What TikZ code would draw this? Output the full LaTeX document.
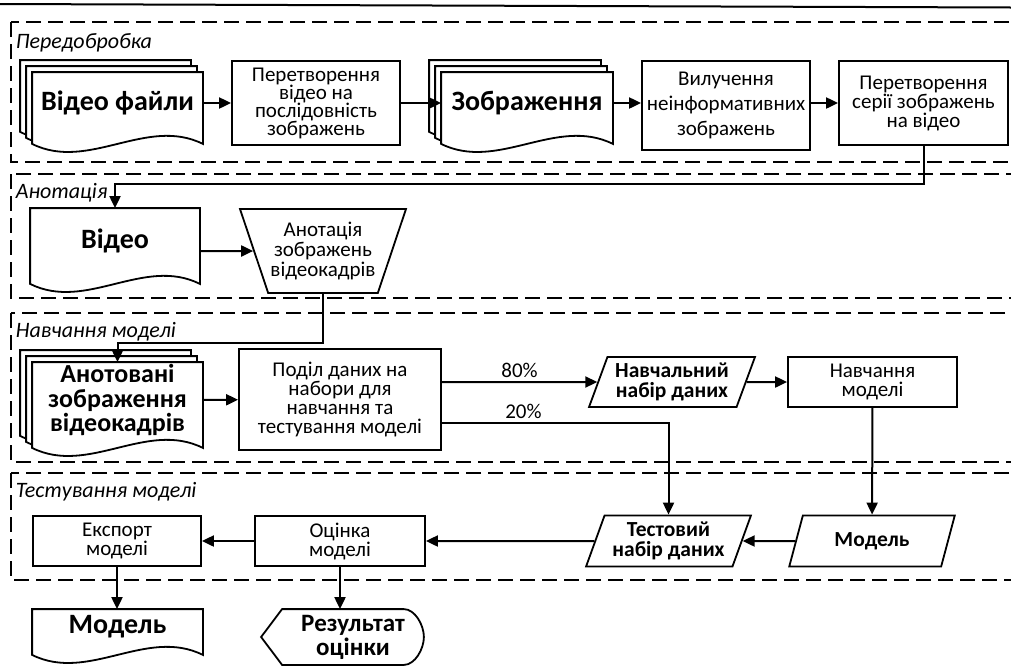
\documentclass[tikz,border=0pt]{standalone}
\usepackage{fontspec}
\setmainfont{Carlito}
\usetikzlibrary{arrows.meta,calc,shapes.geometric,backgrounds}
\tikzset{>={Triangle[length=12pt,width=11pt]}}

% document outline under a node, #1 = offset of the copy
\newcommand\docshape[2][0,0]{%
  \draw[docline] ($(#2.north west)+(#1)$) -- ($(#2.north east)+(#1)$)
    -- ($(#2.south east)+(#1)+(0,10)$)
    .. controls ($(#2.south east)!.33!(#2.south west)+(#1)+(0,-18)$)
    and ($(#2.south east)!.67!(#2.south west)+(#1)+(0,38)$)
    .. ($(#2.south west)+(#1)+(0,10)$) -- cycle;}

\begin{document}
\begin{tikzpicture}[x=1pt,y=-1pt,line width=1.8pt,
  box/.style={draw, rectangle, inner sep=0pt, align=center, font=\fontsize{21}{19}\selectfont},
  docnode/.style={rectangle, inner sep=0pt, align=center, font=\bfseries\fontsize{28}{22}\selectfont},
  docline/.style={line width=1.8pt, fill=white},
  datanode/.style={draw, trapezium, trapezium left angle=67, trapezium right angle=113,
    trapezium stretches=true, inner sep=0pt, align=center, font=\bfseries\fontsize{21.5}{20}\selectfont},
  lbl/.style={anchor=west, inner sep=0pt, font=\itshape\fontsize{22}{22}\selectfont},
  frame/.style={line width=1.4pt, dash pattern=on 15pt off 7pt},
  flow/.style={->, line width=2pt}]
\useasboundingbox (0,0) rectangle (1011,665);

% row 1
\node[docnode, minimum width=169pt, minimum height=60pt] (vf) at (117.5,103) {Відео файли};
\node[box, minimum width=168pt, minimum height=84pt, font=\fontsize{21}{18}\selectfont] (conv) at (316,103)
  {Перетворення\\відео на\\послідовність\\зображень};
\node[docnode, minimum width=170pt, minimum height=60pt] (img) at (527,103) {Зображення};
\node[box, minimum width=168pt, minimum height=89pt, font=\fontsize{21}{25}\selectfont] (del) at (726,105.5)
  {Вилучення\\неінформативних\\зображень};
\node[box, minimum width=169pt, minimum height=84pt] (conv2) at (923.5,103)
  {Перетворення\\серії зображень\\на відео};

% row 2
\node[docnode, minimum width=168pt, minimum height=64pt] (vid) at (115,241) {Відео};
\node[draw, trapezium, shape border rotate=180, trapezium left angle=65, trapezium right angle=65,
  trapezium stretches=true, minimum width=166pt, minimum height=84pt, inner sep=0pt,
  align=center, font=\fontsize{21}{20}\selectfont] (ann) at (323,251)
  {Анотація\\зображень\\відеокадрів};

% row 3
\node[docnode, minimum width=169pt, minimum height=74pt, font=\bfseries\fontsize{26}{24.5}\selectfont] (ann2) at (117.5,400)
  {Анотовані\\зображення\\відеокадрів};
\node[box, minimum width=202pt, minimum height=101pt] (split) at (340,399.5)
  {Поділ даних на\\набори для\\навчання та\\тестування моделі};
\node[datanode, minimum width=166pt, minimum height=50pt] (trainset) at (672,382) {Навчальний\\набір даних};
\node[box, minimum width=169pt, minimum height=50pt, font=\fontsize{21}{19}\selectfont] (train) at (872.5,382)
  {Навчання\\моделі};

% row 4
\node[datanode, minimum width=166pt, minimum height=51pt] (model) at (872,541) {Модель};
\node[datanode, minimum width=165pt, minimum height=51pt] (testset) at (668.5,541) {Тестовий\\набір даних};
\node[box, minimum width=170pt, minimum height=50pt, font=\fontsize{21}{19}\selectfont] (eval) at (340,541)
  {Оцінка\\моделі};
\node[box, minimum width=168pt, minimum height=50pt, font=\fontsize{21}{19}\selectfont] (exp) at (117,541)
  {Експорт\\моделі};

% outputs
\node[docnode, minimum width=169pt, minimum height=34pt] (mdoc) at (117.5,627) {Модель};
\node[rectangle, inner sep=0pt, minimum width=140pt, minimum height=54pt, align=center,
  font=\bfseries\fontsize{25}{24}\selectfont] (res) at (353,637) {Результат\\оцінки};

% frame labels
\node[lbl] (l1) at (15,43) {Передобробка};
\node[lbl] (l2) at (15,193) {Анотація};
\node[lbl] (l3) at (15,332) {Навчання моделі};
\node[lbl] (l4) at (15,492) {Тестування моделі};

\begin{scope}[on background layer]
  \draw[line width=2pt] (0,4) -- (1011,7.5);
  \draw[frame] (11,22) rectangle (1030,162);
  \draw[frame] (11,174) rectangle (1030,298);
  \draw[frame] (11,313) rectangle (1030,462);
  \draw[frame] (11,473) rectangle (1030,580);
  \docshape[-12,-12]{vf} \docshape[-6,-6]{vf} \docshape{vf}
  \docshape[-12,-12]{img} \docshape[-6,-6]{img} \docshape{img}
  \docshape{vid}
  \docshape[-12,-12]{ann2} \docshape[-6,-6]{ann2} \docshape{ann2}
  \docshape{mdoc}
  \draw[docline] ($(res.west)+(-21,0)$) -- (res.north west) -- ($(res.north east)+(-20,0)$)
    .. controls ($(res.north east)+(-9,0)$) and ($(res.east)+(0,-12)$) .. (res.east)
    .. controls ($(res.east)+(0,12)$) and ($(res.south east)+(-9,0)$) .. ($(res.south east)+(-20,0)$)
    -- (res.south west) -- cycle;
\end{scope}

% connectors
\draw[flow] (vf) -- (conv);
\draw[flow] (conv) -- (img);
\draw[flow] (img.east) -- (img.east -| del.west);
\draw[flow] (del.east |- conv2) -- (conv2);
\draw[flow] (conv2.south) -- ++(0,38) -| (vid.north);
\draw[flow] (vid.east |- ann) -- (ann);
\draw[flow] (ann.south) -- ++(0,49) -| (ann2.north);
\draw[flow] (ann2) -- (split);
\draw[flow] (split.east |- trainset) -- node[above, font=\fontsize{21}{21}\selectfont] {80\%} (trainset);
\draw[flow] ($(split.east)+(0,23)$) -| node[pos=0.18, above, font=\fontsize{21}{21}\selectfont] {20\%} (testset);
\draw[flow] (trainset) -- (train);
\draw[flow] (train) -- (model);
\draw[flow] (model) -- (testset);
\draw[flow] (testset) -- (eval);
\draw[flow] (eval) -- (exp);
\draw[flow] (exp.south) -- (exp.south |- mdoc.north);
\draw[flow] (eval.south) -- (eval.south |- res.north);
\end{tikzpicture}
\end{document}
